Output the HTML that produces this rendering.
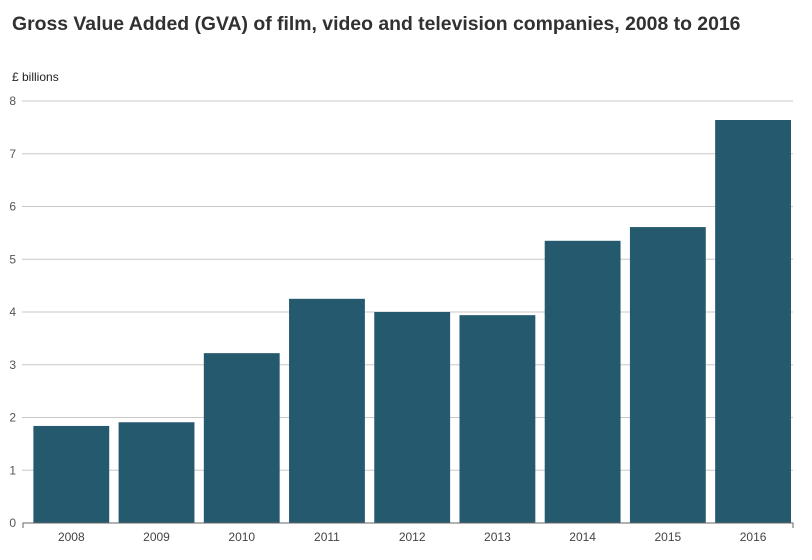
<!DOCTYPE html>
<html><head><meta charset="utf-8"><style>
body{margin:0;background:#fff;font-family:"Liberation Sans",sans-serif;}
</style></head><body>
<svg width="812" height="555">
<text x="12" y="30" font-size="19.4" font-weight="bold" fill="#323132">Gross Value Added (GVA) of film, video and television companies, 2008 to 2016</text>
<text x="12" y="81" font-size="12" fill="#222">£ billions</text>
<g id="grid"></g><g id="bars"></g><g id="xaxis"></g>
</svg>
<script>
const categories=["2008","2009","2010","2011","2012","2013","2014","2015","2016"];
const values=[1.84,1.91,3.22,4.25,4.0,3.94,5.35,5.61,7.64];
const yTicks=[0,1,2,3,4,5,6,7,8];
const ns="http://www.w3.org/2000/svg";
const x0=24,x1=791,y0=523,y1=101,yMax=8;
const band=(x1-x0)/categories.length;
const y=v=>y0-(v/yMax)*(y0-y1);
const xs=i=>x0+i*band;
function mk(t,a,p){const e=document.createElementNS(ns,t);for(const k in a)e.setAttribute(k,a[k]);p.appendChild(e);return e;}
const g=document.getElementById('grid');
yTicks.forEach(t=>{
  if(t>0){const l=mk('line',{x1:22,x2:793,y1:y(t),y2:y(t),stroke:'#c8c8c8','stroke-width':1},g);
  
  }
  const tx=mk('text',{x:16,y:y(t)+4,'font-size':12,fill:'#555','text-anchor':'end'},g);
  tx.textContent=t;
  
  
});
const b=document.getElementById('bars');
values.forEach((v,i)=>{
  const r=mk('rect',{x:xs(i)+band*0.11,y:y(v),width:band*0.89,height:y0-y(v),fill:'#255a6e'},b);
  
  
});
const xa=document.getElementById('xaxis');
const ax=mk('path',{d:`M${x0-1},${y0+5}V${y0}H793V${y0+5}`,stroke:'#666',fill:'none','stroke-width':1},xa);


categories.forEach((c,i)=>{
  const t=mk('text',{x:xs(i)+band*0.555,y:541,'font-size':12,fill:'#444','text-anchor':'middle'},xa);
  t.textContent=c;
  
  
});
</script>
</body></html>
